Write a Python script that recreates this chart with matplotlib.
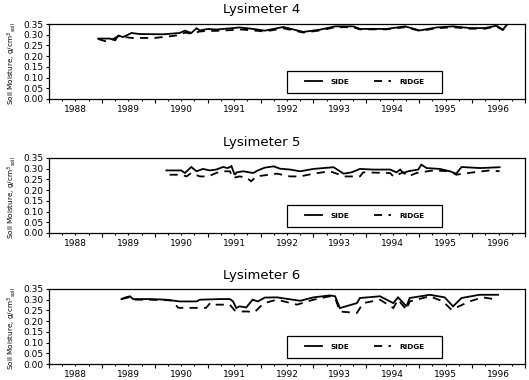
import matplotlib
matplotlib.use("Agg")
import matplotlib.pyplot as plt
from matplotlib.ticker import FixedLocator, FuncFormatter, MultipleLocator
from matplotlib.patches import Rectangle

# ---------------- data ----------------
titles = ["Lysimeter 4", "Lysimeter 5", "Lysimeter 6"]
years = [1988, 1989, 1990, 1991, 1992, 1993, 1994, 1995, 1996]
yticks = [0.00, 0.05, 0.10, 0.15, 0.20, 0.25, 0.30, 0.35]

# Lysimeter 4
l4_side_t = [1988.93, 1989.15, 1989.25, 1989.31, 1989.40, 1989.56, 1989.72, 1990.16, 1990.47,
             1990.57, 1990.69, 1990.79, 1990.85, 1991.01, 1991.16, 1991.48, 1991.60, 1991.86,
             1992.08, 1992.43, 1992.81, 1993.13, 1993.41, 1993.75, 1993.88, 1994.38, 1994.73,
             1995.01, 1995.33, 1995.64, 1995.96, 1996.24, 1996.46, 1996.58, 1996.65]
l4_side_v = [0.282, 0.282, 0.274, 0.296, 0.289, 0.308, 0.303, 0.302, 0.308,
             0.319, 0.308, 0.330, 0.320, 0.327, 0.324, 0.331, 0.334, 0.327,
             0.319, 0.336, 0.313, 0.324, 0.339, 0.339, 0.327, 0.327, 0.339,
             0.320, 0.334, 0.339, 0.331, 0.331, 0.342, 0.324, 0.344]
l4_ridge_t = [1988.93, 1989.06, 1989.20, 1989.31, 1989.56, 1990.00, 1990.30, 1990.47, 1990.57,
              1990.69, 1990.85, 1991.01, 1991.16, 1991.48, 1991.60, 1991.86, 1992.08, 1992.43,
              1992.81, 1993.13, 1993.41, 1993.75, 1993.88, 1994.38, 1994.73, 1995.01, 1995.33,
              1995.64, 1995.96, 1996.24, 1996.46, 1996.58, 1996.65]
l4_ridge_v = [0.280, 0.270, 0.278, 0.293, 0.285, 0.285, 0.293, 0.298, 0.310,
              0.305, 0.315, 0.318, 0.318, 0.322, 0.325, 0.320, 0.315, 0.330,
              0.310, 0.320, 0.335, 0.335, 0.325, 0.325, 0.335, 0.318, 0.330,
              0.335, 0.328, 0.328, 0.338, 0.322, 0.340]

# Lysimeter 5
l5_side_t = [1990.22, 1990.50, 1990.57, 1990.69, 1990.79, 1990.91, 1991.04, 1991.16, 1991.29,
             1991.38, 1991.45, 1991.51, 1991.55, 1991.67, 1991.86, 1991.95, 1992.08, 1992.25,
             1992.37, 1992.56, 1992.75, 1993.00, 1993.38, 1993.57, 1993.72, 1993.88, 1994.13,
             1994.45, 1994.57, 1994.64, 1994.70, 1994.79, 1994.98, 1995.04, 1995.14, 1995.39,
             1995.58, 1995.70, 1995.80, 1996.15, 1996.52]
l5_side_v = [0.292, 0.292, 0.280, 0.308, 0.288, 0.299, 0.292, 0.296, 0.308,
             0.303, 0.312, 0.272, 0.283, 0.288, 0.280, 0.292, 0.305, 0.311,
             0.300, 0.296, 0.288, 0.299, 0.307, 0.277, 0.283, 0.299, 0.296,
             0.296, 0.283, 0.296, 0.280, 0.288, 0.296, 0.319, 0.303, 0.299,
             0.288, 0.277, 0.308, 0.303, 0.307]
l5_ridge_t = [1990.28, 1990.50, 1990.60, 1990.69, 1990.85, 1991.01, 1991.16, 1991.26, 1991.42,
              1991.48, 1991.60, 1991.73, 1991.82, 1991.92, 1992.04, 1992.31, 1992.56, 1992.75,
              1993.00, 1993.31, 1993.50, 1993.60, 1993.88, 1993.94, 1994.45, 1994.51, 1994.70,
              1994.79, 1994.95, 1995.26, 1995.58, 1995.70, 1996.02, 1996.33, 1996.52]
l5_ridge_v = [0.272, 0.272, 0.264, 0.280, 0.264, 0.264, 0.280, 0.288, 0.288,
              0.257, 0.264, 0.260, 0.241, 0.264, 0.268, 0.277, 0.264, 0.264,
              0.277, 0.288, 0.272, 0.264, 0.264, 0.283, 0.280, 0.264, 0.283,
              0.264, 0.280, 0.292, 0.288, 0.272, 0.283, 0.292, 0.288]

# Lysimeter 6
l6_side_t = [1989.37, 1989.45, 1989.53, 1989.59, 1989.91, 1990.22, 1990.47, 1990.79, 1990.85,
             1991.23, 1991.42, 1991.48, 1991.54, 1991.60, 1991.73, 1991.85, 1991.95, 1992.08,
             1992.31, 1992.75, 1993.00, 1993.31, 1993.41, 1993.50, 1993.82, 1993.88, 1994.26,
             1994.51, 1994.60, 1994.76, 1994.82, 1995.20, 1995.48, 1995.64, 1995.80, 1996.14,
             1996.49]
l6_side_v = [0.303, 0.311, 0.316, 0.303, 0.303, 0.300, 0.292, 0.292, 0.300,
             0.303, 0.303, 0.292, 0.261, 0.269, 0.264, 0.300, 0.292, 0.310,
             0.311, 0.295, 0.311, 0.320, 0.316, 0.261, 0.284, 0.308, 0.316,
             0.284, 0.311, 0.269, 0.308, 0.323, 0.311, 0.269, 0.308, 0.323,
             0.323]
l6_ridge_t = [1989.37, 1989.53, 1989.59, 1989.91, 1990.30, 1990.45, 1990.97, 1991.05, 1991.10,
              1991.42, 1991.51, 1991.60, 1991.76, 1991.89, 1991.98, 1992.08, 1992.31, 1992.69,
              1993.00, 1993.31, 1993.41, 1993.50, 1993.82, 1993.94, 1994.26, 1994.51, 1994.60,
              1994.76, 1994.82, 1995.20, 1995.45, 1995.61, 1995.95, 1996.20, 1996.49]
l6_ridge_v = [0.303, 0.312, 0.300, 0.300, 0.297, 0.262, 0.262, 0.285, 0.277,
              0.277, 0.250, 0.245, 0.245, 0.242, 0.265, 0.285, 0.300, 0.277,
              0.300, 0.316, 0.308, 0.245, 0.238, 0.284, 0.300, 0.261, 0.300,
              0.253, 0.292, 0.316, 0.292, 0.253, 0.292, 0.311, 0.300]

side_t = [l4_side_t, l5_side_t, l6_side_t]
side_v = [l4_side_v, l5_side_v, l6_side_v]
ridge_t = [l4_ridge_t, l5_ridge_t, l6_ridge_t]
ridge_v = [l4_ridge_v, l5_ridge_v, l6_ridge_v]

# ---------------- figure ----------------
W, H = 529, 380
fig = plt.figure(figsize=(W / 100, H / 100), dpi=100)
plt.rcParams['font.family'] = ['DejaVu Sans']

ax_tops = [24, 158, 289]
ax_h = 75
ax_left, ax_right = 49, 525
title_y = [10, 143, 275.5]

for i in range(3):
    top = ax_tops[i]
    ax = fig.add_axes([ax_left / W, 1 - (top + ax_h) / H, (ax_right - ax_left) / W, ax_h / H])
    ax.plot(side_t[i], side_v[i], color='black', lw=1.3, solid_joinstyle='miter', label='SIDE')
    ax.plot(ridge_t[i], ridge_v[i], color='black', lw=1.3, ls=(0, (4.5, 3.5)), label='RIDGE')

    ax.set_xlim(years[0], years[-1] + 1)
    ax.set_ylim(0, 0.35)

    # x axis: year boundaries major, quarterly minor, labels at mid-year
    ax.xaxis.set_major_locator(FixedLocator([y for y in years] + [years[-1] + 1]))
    minor = []
    for y in years:
        minor += [y + 0.25, y + 0.5, y + 0.75]
    ax.xaxis.set_minor_locator(FixedLocator(minor))
    ax.xaxis.set_minor_formatter(FuncFormatter(
        lambda x, pos: str(int(x)) if abs(x - int(x) - 0.5) < 1e-6 else ''))
    ax.tick_params(axis='x', which='major', direction='out', length=3.2, width=0.8,
                   labelbottom=False)
    ax.tick_params(axis='x', which='minor', direction='out', length=1.6, width=0.8,
                   labelsize=6.5, pad=3.0)

    ax.set_yticks(yticks)
    ax.yaxis.set_major_formatter(FuncFormatter(lambda v, pos: f"{v:.2f}"))
    ax.tick_params(axis='y', which='major', direction='out', length=2.5, width=0.8,
                   labelsize=6.5, pad=1.5)
    for sp in ax.spines.values():
        sp.set_linewidth(0.9)

    # legend box
    ax.add_patch(Rectangle((0.50, 0.08), 0.326, 0.293, transform=ax.transAxes,
                           fill=False, lw=0.9, ec='black', zorder=3))
    ax.legend(loc='center', bbox_to_anchor=(0.664, 0.227), ncol=2, frameon=False,
              prop={'size': 5.3, 'weight': 'bold'}, handlelength=2.3,
              handletextpad=1.1, columnspacing=3.4, borderpad=0.2)

    fig.text(262 / W, 1 - title_y[i] / H, titles[i], ha='center', va='center', fontsize=9.5)
    fig.text(12 / W, 1 - (top + ax_h / 2 + 2) / H,
             r"Soil Moisture, g/cm$^{3}$$_{\mathrm{soil}}$",
             rotation=90, ha='center', va='center', fontsize=5.2)

fig.savefig("out.png", dpi=100)
